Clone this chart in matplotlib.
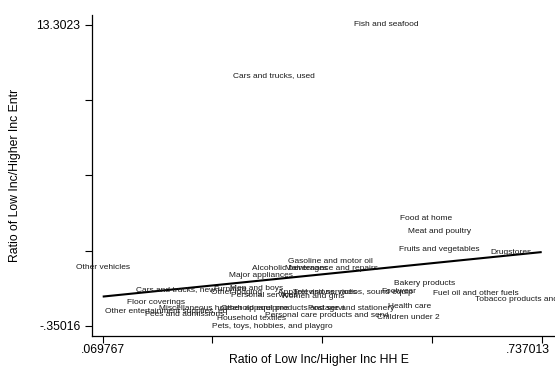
import numpy as np
import matplotlib
matplotlib.use("Agg")
import matplotlib.pyplot as plt

plt.rcParams['font.family'] = ['Liberation Sans', 'DejaVu Sans']

# ---- data ----
categories = [
    "Fish and seafood", "Cars and trucks, used", "Food at home", "Meat and poultry",
    "Fruits and vegetables", "Drugstores", "Gasoline and motor oil",
    "Maintenance and repairs", "Alcoholic beverages", "Major appliances",
    "Other vehicles", "Bakery products", "Cars and trucks, new", "Furniture",
    "Men and boys", "Other lodging", "Personal services", "Apparel and services",
    "Women and girls", "Televisions, radios, sound equip", "Footwear",
    "Fuel oil and other fuels", "Tobacco products and smoking sup",
    "Floor coverings", "Other entertainment supplies, eq", "Fees and admissions",
    "Miscellaneous household equipme", "Other apparel products and servi",
    "Household textiles", "Pets, toys, hobbies, and playgro",
    "Personal care products and servi", "Postage and stationery", "Health care",
    "Children under 2",
]
x_exp = [
    0.5001, 0.3301, 0.5609, 0.5825,
    0.5820, 0.6896, 0.4153,
    0.4175, 0.3545, 0.3104,
    0.069767, 0.5597, 0.1812, 0.2633,
    0.3043, 0.2739, 0.3149, 0.3955,
    0.3894, 0.4502, 0.5201,
    0.6372, 0.737013,
    0.1505, 0.1663, 0.1949,
    0.2542, 0.3438,
    0.2952, 0.3279,
    0.4107, 0.4472, 0.5369,
    0.5338,
]
y_ent = [
    13.3023, 10.989, 4.536, 3.928,
    3.098, 2.962, 2.576,
    2.259, 2.250, 1.941,
    2.295, 1.588, 1.307, 1.307,
    1.330, 1.148, 1.012, 1.171,
    0.967, 1.171, 1.193,
    1.135, 0.853,
    0.708, 0.300, 0.150,
    0.454, 0.454,
    -0.031, -0.35016,
    0.127, 0.445, 0.513,
    0.036,
]
x_title = "Ratio of Low Inc/Higher Inc HH E"
y_title = "Ratio of Low Inc/Higher Inc Entr"

x = np.array(x_exp)
y = np.array(y_ent)

W, H = 555, 376
fig = plt.figure(figsize=(W / 100, H / 100), dpi=100)
L, R, B, T = 91.7, 555, 336, 15
ax = fig.add_axes([L / W, 1 - B / H, (R - L) / W, (B - T) / H])

xmin, xmax = x.min(), x.max()
ymin, ymax = y.min(), y.max()
xpx = (541.7 - 102.7) / (xmax - xmin)
ypx = (326 - 25) / (ymax - ymin)
ax.set_xlim(xmin - (102.7 - L) / xpx, xmax + (R - 541.7) / xpx)
ax.set_ylim(ymin - (B - 326) / ypx, ymax + (25 - T) / ypx)

# fitted line
b, a = np.polyfit(x, y, 1)
xs = np.array([xmin, xmax])
ax.plot(xs, a + b * xs, color='black', lw=1.5, solid_capstyle='butt', zorder=3)

for cx, cy, lab in zip(x, y, categories):
    ax.text(cx, cy, lab, ha='center', va='center', fontsize=6,
            color='#1a1a1a', clip_on=False, zorder=4)

xt = np.linspace(xmin, xmax, 5)
yt = np.linspace(ymin, ymax, 5)
ax.set_xticks(xt)
ax.set_yticks(yt)
ax.set_xticklabels([".069767", "", "", "", ""])
ax.set_yticklabels(["-.35016", "", "", "", "13.3023"])
ax.tick_params(axis='both', direction='out', length=5, width=0.8, labelsize=8.8,
               colors='black')
ax.tick_params(axis='y', pad=3)
ax.tick_params(axis='x', pad=0.8)
# last x tick label kept inside the figure
ax.annotate(".737013", xy=(xmax, 0), xycoords=('data', 'axes fraction'),
            xytext=(6, -5.8), textcoords='offset points', ha='right', va='top',
            fontsize=8.8, color='black', annotation_clip=False)
for s in ['top', 'right']:
    ax.spines[s].set_visible(False)
for s in ['left', 'bottom']:
    ax.spines[s].set_linewidth(0.9)

ax.set_xlabel(x_title, fontsize=8.8)
ax.xaxis.set_label_coords((319 - L) / (R - L), (B - 354) / (B - T))
ax.set_ylabel(y_title, fontsize=8.8)
ax.yaxis.set_label_coords((21 - L) / (R - L), (B - 175) / (B - T))

fig.savefig("out.png", dpi=100, facecolor='white')
